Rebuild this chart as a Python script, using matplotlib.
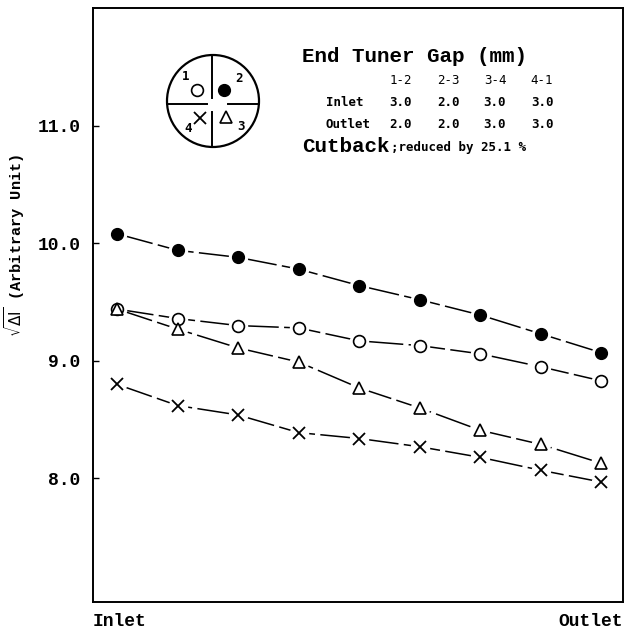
import numpy as np
from matplotlib import pyplot as plt
from matplotlib.patches import Circle

# positions along the tuner, inlet -> outlet
positions = np.arange(9)

# sqrt(dI) readings for the four probe positions
filled_circle = [10.08, 9.94, 9.88, 9.78, 9.64, 9.52, 9.39, 9.23, 9.07]
open_circle = [9.44, 9.36, 9.30, 9.28, 9.17, 9.13, 9.06, 8.95, 8.83]
triangle = [9.44, 9.27, 9.11, 8.99, 8.77, 8.60, 8.41, 8.29, 8.13]
cross = [8.80, 8.62, 8.54, 8.39, 8.34, 8.27, 8.18, 8.07, 7.97]

y_ticks = [8.0, 9.0, 10.0, 11.0]
x_labels = ['Inlet', 'Outlet']

gap_cols = ['1-2', '2-3', '3-4', '4-1']
inlet_gap = ['3.0', '2.0', '3.0', '3.0']
outlet_gap = ['2.0', '2.0', '3.0', '3.0']

mono = 'Liberation Mono'
table_font = 'DejaVu Sans Mono'

fig = plt.figure(figsize=(6.27, 6.4), dpi=100)
ax = fig.add_axes([93 / 627, 1 - 602 / 640, 530 / 627, 594 / 640])

series = [
    (filled_circle, dict(marker='o', ms=8.5, mfc='black', mec='black')),
    (open_circle, dict(marker='o', ms=8.5, mfc='white', mec='black', mew=1.2)),
    (triangle, dict(marker='^', ms=8, mfc='white', mec='black', mew=1.2)),
    (cross, dict(marker='x', ms=8.5, mec='black', mew=1.3)),
]
for vals, style in series:
    ax.plot(positions, vals, color='black', lw=1.1, ls=(0, (24, 3.5)), zorder=2)
    # white halo so the line stops short of each marker
    ax.plot(positions, vals, ls='none', marker='o', ms=13, mfc='white',
            mec='white', zorder=3)
    ax.plot(positions, vals, ls='none', zorder=4, **style)

ax.set_xlim(-0.40, 8.36)
ax.set_ylim(6.95, 12.0)

ax.set_yticks(y_ticks)
ax.set_yticklabels(['%.1f' % v for v in y_ticks], fontfamily=mono,
                   fontweight='bold', fontsize=13)
ax.tick_params(axis='y', direction='in', length=4, width=1, pad=9)

ax.set_xticks([ax.get_xlim()[0], ax.get_xlim()[1]])
ax.set_xticklabels(x_labels, fontfamily=mono, fontweight='bold', fontsize=13)
ax.tick_params(axis='x', length=0, pad=8)
ax.get_xticklabels()[0].set_ha('left')
ax.get_xticklabels()[1].set_ha('right')

for s in ax.spines.values():
    s.set_linewidth(1.4)

ax.set_ylabel(r'$\sqrt{\Delta \mathrm{I}}$ (Arbitrary Unit)', fontfamily=mono,
              fontweight='bold', fontsize=11, va='center')
ax.yaxis.set_label_coords(-0.148, 0.60)

# gap table
fig.text(302 / 627, 1 - 57 / 640, 'End Tuner Gap (mm)', fontfamily=mono,
         fontweight='bold', fontsize=15, va='center')
col_x = [401, 448, 495, 542]
for cx, head, a, b in zip(col_x, gap_cols, inlet_gap, outlet_gap):
    fig.text(cx / 627, 1 - 80 / 640, head, fontfamily=table_font,
             fontsize=9, ha='center', va='center')
    fig.text(cx / 627, 1 - 102 / 640, a, fontfamily=table_font,
             fontweight='bold', fontsize=9, ha='center', va='center')
    fig.text(cx / 627, 1 - 125 / 640, b, fontfamily=table_font,
             fontweight='bold', fontsize=9, ha='center', va='center')
fig.text(326 / 627, 1 - 102 / 640, 'Inlet', fontfamily=table_font,
         fontweight='bold', fontsize=9, va='center')
fig.text(326 / 627, 1 - 125 / 640, 'Outlet', fontfamily=table_font,
         fontweight='bold', fontsize=9, va='center')
cut = fig.text(302 / 627, 1 - 147 / 640, 'Cutback', fontfamily=mono,
               fontweight='bold', fontsize=15, va='center')
ax.annotate(';reduced by 25.1 %', xy=(1, 0.45), xycoords=cut,
            xytext=(1, 0), textcoords='offset points', va='center',
            fontfamily=table_font, fontweight='bold', fontsize=9)

# probe layout schematic
ins = fig.add_axes([(213 - 50) / 627, 1 - (101 + 50) / 640, 100 / 627, 100 / 640])
ins.set_xlim(-50, 50)
ins.set_ylim(-50, 50)
ins.axis('off')
ins.add_patch(Circle((0, 0), 46, fill=False, lw=1.6, color='black'))
ins.plot([-46, -6], [-3, -3], color='black', lw=1.4)
ins.plot([15, 46], [-3, -3], color='black', lw=1.4)
ins.plot([-1, -1], [46, 3], color='black', lw=1.4)
ins.plot([-1, -1], [-11, -46], color='black', lw=1.4)
ins.plot(-16, 11, marker='o', ms=8.5, mfc='white', mec='black', mew=1.2)
ins.plot(11, 11, marker='o', ms=8.5, mfc='black', mec='black')
ins.plot(-13, -17, marker='x', ms=8.5, mec='black', mew=1.3)
ins.plot(13, -16, marker='^', ms=8, mfc='white', mec='black', mew=1.2)
for label, lx, ly in [('1', -27, 24), ('2', 26, 23), ('4', -25, -27), ('3', 28, -26)]:
    ins.text(lx, ly, label, fontfamily=table_font, fontweight='bold',
             fontsize=9, ha='center', va='center')

fig.savefig('out.png', dpi=100)
